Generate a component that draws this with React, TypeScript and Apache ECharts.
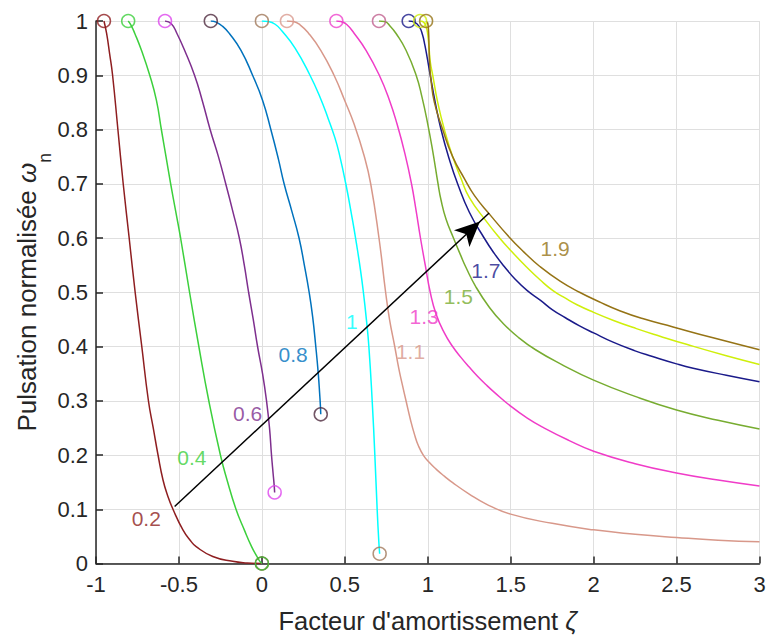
import { useEffect, useRef } from "react";
import * as echarts from "echarts";

const FONT = "'Liberation Sans', Arial, Helvetica, sans-serif";
const INK = "#262626";

// parameter of each curve
const curveNames = ["0.2", "0.4", "0.6", "0.8", "1", "1.1", "1.3", "1.5", "1.7", "1.8", "1.9"];
const lineColors = ["#8E1E20", "#3CD03C", "#7E2F8E", "#0072BD", "#00FFFF", "#D8988A", "#F03CC8", "#77AC30", "#1A1A8A", "#CFEF0A", "#957315"];
const circleColors = ["#8E1E20", "#3CD03C", "#DD44EE", "#4F2B3E", "#A0785A", "#D99A8E", "#EE44CC", "#C0608F", "#1A1A8A", "#CFEF0A", "#957315"];

// [zeta, omega_n] points
const curve02 = [[-0.952, 1], [-0.936, 0.977], [-0.918, 0.94], [-0.9, 0.9], [-0.868, 0.8], [-0.836, 0.7], [-0.8, 0.6], [-0.764, 0.5], [-0.724, 0.4], [-0.684, 0.3], [-0.655, 0.25], [-0.626, 0.2], [-0.596, 0.154], [-0.568, 0.125], [-0.536, 0.1], [-0.476, 0.062], [-0.43, 0.042], [-0.396, 0.031], [-0.296, 0.013], [-0.176, 0.004], [-0.09, 0.001], [0, 0]];
const curve04 = [[-0.806, 1], [-0.79, 0.993], [-0.766, 0.977], [-0.726, 0.946], [-0.676, 0.9], [-0.636, 0.854], [-0.606, 0.8], [-0.578, 0.75], [-0.55, 0.7], [-0.52, 0.65], [-0.49, 0.6], [-0.436, 0.5], [-0.38, 0.4], [-0.32, 0.3], [-0.25, 0.2], [-0.21, 0.154], [-0.156, 0.1], [-0.106, 0.062], [-0.062, 0.031], [-0.03, 0.013], [-0.012, 0.004], [0, 0]];
const curve06 = [[-0.584, 1], [-0.546, 0.995], [-0.512, 0.977], [-0.466, 0.946], [-0.406, 0.9], [-0.36, 0.854], [-0.312, 0.8], [-0.262, 0.75], [-0.218, 0.7], [-0.176, 0.65], [-0.136, 0.6], [-0.106, 0.55], [-0.08, 0.5], [-0.052, 0.45], [-0.026, 0.4], [0.004, 0.35], [0.028, 0.3], [0.046, 0.25], [0.058, 0.2], [0.068, 0.165], [0.074, 0.145], [0.077, 0.131]];
const curve08 = [[-0.308, 1], [-0.276, 0.998], [-0.236, 0.99], [-0.196, 0.977], [-0.126, 0.946], [-0.056, 0.9], [0.004, 0.854], [0.054, 0.8], [0.1, 0.745], [0.134, 0.7], [0.18, 0.65], [0.224, 0.6], [0.256, 0.55], [0.285, 0.5], [0.306, 0.455], [0.325, 0.4], [0.34, 0.35], [0.349, 0.31], [0.353, 0.29], [0.355, 0.275]];
const curve10 = [[0, 1], [0.04, 0.999], [0.08, 0.994], [0.12, 0.982], [0.2, 0.95], [0.29, 0.9], [0.35, 0.86], [0.4, 0.82], [0.44, 0.785], [0.466, 0.756], [0.506, 0.7], [0.547, 0.632], [0.57, 0.59], [0.595, 0.54], [0.612, 0.5], [0.63, 0.45], [0.645, 0.4], [0.665, 0.3], [0.681, 0.2], [0.695, 0.1], [0.705, 0.04], [0.71, 0.018]];
const curve11 = [[0.151, 1], [0.19, 0.999], [0.23, 0.993], [0.28, 0.978], [0.355, 0.946], [0.435, 0.9], [0.5, 0.853], [0.556, 0.81], [0.616, 0.752], [0.656, 0.7], [0.706, 0.6], [0.746, 0.5], [0.77, 0.449], [0.801, 0.4], [0.825, 0.36], [0.845, 0.332], [0.869, 0.3], [0.895, 0.266], [0.92, 0.238], [0.945, 0.216], [0.975, 0.199], [1.01, 0.186], [1.05, 0.174], [1.1, 0.161], [1.15, 0.149], [1.25, 0.128], [1.35, 0.11], [1.5, 0.091], [1.75, 0.074], [2.0, 0.062], [2.25, 0.054], [2.5, 0.048], [2.75, 0.043], [3.0, 0.04]];
const curve13 = [[0.449, 1], [0.477, 0.999], [0.51, 0.994], [0.557, 0.977], [0.628, 0.946], [0.708, 0.9], [0.769, 0.854], [0.815, 0.81], [0.862, 0.756], [0.902, 0.7], [0.93, 0.65], [0.956, 0.6], [0.985, 0.55], [1.015, 0.5], [1.05, 0.46], [1.1, 0.425], [1.15, 0.4], [1.2, 0.38], [1.25, 0.362], [1.3, 0.345], [1.35, 0.33], [1.4, 0.316], [1.5, 0.29], [1.6, 0.268], [1.7, 0.25], [1.85, 0.227], [2.0, 0.207], [2.25, 0.184], [2.5, 0.167], [2.75, 0.154], [3.0, 0.143]];
const curve15 = [[0.706, 1], [0.74, 0.999], [0.775, 0.99], [0.809, 0.977], [0.869, 0.946], [0.93, 0.9], [0.965, 0.86], [1.0, 0.81], [1.03, 0.76], [1.062, 0.7], [1.08, 0.67], [1.11, 0.635], [1.155, 0.6], [1.2, 0.567], [1.23, 0.546], [1.29, 0.51], [1.372, 0.472], [1.453, 0.443], [1.55, 0.416], [1.65, 0.394], [1.8, 0.368], [2.0, 0.338], [2.25, 0.308], [2.5, 0.283], [2.75, 0.264], [3.0, 0.248]];
const curve17 = [[0.885, 1], [0.92, 0.998], [0.948, 0.99], [0.968, 0.975], [0.983, 0.955], [0.998, 0.93], [1.015, 0.9], [1.045, 0.85], [1.08, 0.8], [1.13, 0.745], [1.18, 0.7], [1.25, 0.648], [1.34, 0.6], [1.4, 0.572], [1.46, 0.548], [1.53, 0.523], [1.6, 0.503], [1.68, 0.485], [1.75, 0.468], [1.83, 0.453], [1.915, 0.438], [2.0, 0.425], [2.117, 0.408], [2.25, 0.392], [2.35, 0.382], [2.5, 0.368], [2.6, 0.36], [2.8, 0.347], [3.0, 0.335]];
const curve18 = [[0.954, 1], [0.975, 0.998], [0.99, 0.99], [1.0, 0.975], [1.008, 0.95], [1.015, 0.925], [1.03, 0.9], [1.06, 0.85], [1.1, 0.8], [1.15, 0.75], [1.2, 0.71], [1.25, 0.675], [1.35, 0.632], [1.433, 0.6], [1.5, 0.577], [1.594, 0.547], [1.68, 0.522], [1.755, 0.503], [1.83, 0.489], [1.9, 0.477], [2.0, 0.463], [2.12, 0.448], [2.258, 0.433], [2.4, 0.419], [2.56, 0.404], [2.8, 0.383], [3.0, 0.367]];
const curve19 = [[0.99, 1], [1.0, 0.995], [1.005, 0.98], [1.008, 0.95], [1.012, 0.92], [1.02, 0.89], [1.04, 0.85], [1.09, 0.8], [1.15, 0.75], [1.22, 0.71], [1.282, 0.678], [1.372, 0.644], [1.493, 0.601], [1.58, 0.574], [1.674, 0.548], [1.8, 0.52], [1.915, 0.5], [2.03, 0.483], [2.157, 0.466], [2.3, 0.451], [2.479, 0.436], [2.72, 0.416], [3.0, 0.394]];

const curves = [curve02, curve04, curve06, curve08, curve10, curve11, curve13, curve15, curve17, curve18, curve19];

// curve labels
const labelTexts = ["0.2", "0.4", "0.6", "0.8", "1", "1.1", "1.3", "1.5", "1.7", "1.9"];
const labelX = [-0.697, -0.422, -0.086, 0.188, 0.543, 0.896, 0.978, 1.185, 1.35, 1.768];
const labelY = [0.083, 0.196, 0.277, 0.385, 0.446, 0.39, 0.455, 0.492, 0.54, 0.58];
const labelColors = ["#8E1E20", "#3CD03C", "#7E2F8E", "#0072BD", "#00FFFF", "#D8988A", "#F03CC8", "#77AC30", "#1A1A8A", "#957315"];

// arrow annotation
const arrowFrom = [-0.526, 0.105];
const arrowTo = [1.37, 0.646];

export default function App() {
  const ref = useRef<HTMLDivElement>(null);
  useEffect(() => {
    document.body.style.margin = "0";
    document.body.style.overflow = "hidden";
    if (!ref.current) return;
    const chart = echarts.init(ref.current, null, { renderer: "svg" });

    const series: any[] = [];
    curves.forEach((pts, i) => {
      series.push({
        type: "line",
        name: curveNames[i],
        data: pts,
        showSymbol: false,
        smooth: 0.5,
        lineStyle: { color: lineColors[i], width: 1.5 },
        z: 2,
      });
      const ends: number[][] = [pts[0]];
      const last = pts[pts.length - 1];
      if (last[0] < 3) ends.push(last);
      series.push({
        type: "scatter",
        data: ends,
        symbol: "circle",
        symbolSize: 13,
        clip: false,
        itemStyle: { color: "rgba(0,0,0,0)", borderColor: circleColors[i], borderWidth: 1.5 },
        z: 3,
      });
    });
    labelTexts.forEach((t, i) => {
      series.push({
        type: "scatter",
        data: [[labelX[i], labelY[i]]],
        symbolSize: 1,
        itemStyle: { color: "rgba(0,0,0,0)" },
        label: {
          show: true,
          position: "inside",
          formatter: t,
          color: labelColors[i],
          fontSize: 21,
          fontFamily: FONT,
        },
        z: 5,
      });
    });
    series.push({
      type: "line",
      data: [],
      z: 6,
      markLine: {
        silent: true,
        symbol: ["none", "arrow"],
        symbolSize: [17, 25],
        symbolOffset: [0, [0, 12.5]],
        label: { show: false },
        lineStyle: { color: "#000", width: 1.5, type: "solid" },
        emphasis: { disabled: true },
        data: [[{ coord: arrowFrom }, { coord: arrowTo }]],
      },
    });

    const axisCommon = {
      type: "value" as const,
      axisLine: { show: true, onZero: false, lineStyle: { color: INK, width: 1.5 } },
      axisTick: { show: true, inside: true, length: 7, lineStyle: { color: INK, width: 1.5 } },
      splitLine: { show: true, lineStyle: { color: "#dfdfdf", width: 1 } },
      nameLocation: "middle" as const,
    };

    chart.setOption({
      animation: false,
      backgroundColor: "#ffffff",
      grid: { left: 96, right: 6.5, top: 21, bottom: 71.5, containLabel: false, outerBoundsMode: "none" },
      xAxis: {
        ...axisCommon,
        min: -1,
        max: 3,
        interval: 0.5,
        axisLabel: { color: INK, fontSize: 22, fontFamily: FONT, margin: 10 },
        name: "Facteur d'amortissement {z|ζ}",
        nameGap: 44,
        nameTextStyle: {
          color: INK,
          fontSize: 25.5,
          fontFamily: FONT,
          rich: { z: { color: INK, fontSize: 25.5, fontFamily: FONT, fontStyle: "italic" } },
        },
      },
      yAxis: {
        ...axisCommon,
        min: 0,
        max: 1,
        interval: 0.1,
        axisLabel: { color: INK, fontSize: 22, fontFamily: FONT, margin: 8 },
        name: "Pulsation normalisée {w|ω}{s|n}",
        nameGap: 42,
        nameMoveOverlap: false,
        nameTextStyle: {
          color: INK,
          fontSize: 26,
          fontFamily: FONT,
          rich: {
            w: { color: INK, fontSize: 26, fontFamily: FONT, fontStyle: "italic" },
            s: { color: INK, fontSize: 17.5, fontFamily: FONT, verticalAlign: "bottom", lineHeight: 54 },
          },
        },
      },
      series,
    });
    return () => chart.dispose();
  }, []);
  return (
    <div
      ref={ref}
      style={{ position: "absolute", left: 0, top: 0, width: 766, height: 635, background: "#fff" }}
    />
  );
}
